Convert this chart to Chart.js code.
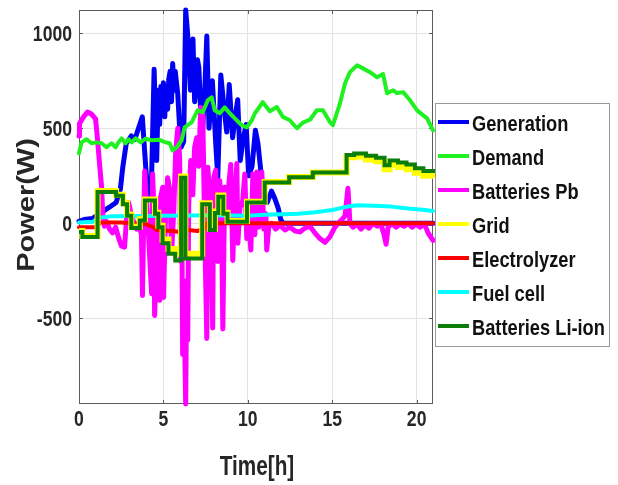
<!DOCTYPE html>
<html>
<head>
<meta charset="utf-8">
<script src="https://cdn.jsdelivr.net/npm/chart.js@4/dist/chart.umd.min.js"></script>
<style>
  html, body { margin: 0; padding: 0; background: #fff; overflow: hidden; }
  canvas { display: block; }
</style>
</head>
<body>
<canvas id="chart" width="618" height="485"></canvas>
<script>
// Axis ticks, axis titles and series names
const xTicks = [0, 5, 10, 15, 20];
const yTicks = [-500, 0, 500, 1000];
const xTitle = 'Time[h]';
const yTitle = 'Power(W)';
const seriesNames = ['Generation', 'Demand', 'Batteries Pb', 'Grid', 'Electrolyzer', 'Fuel cell', 'Batteries Li-ion'];

// Generation (W) over time (h)
const generationT = [0, 0.3, 0.8, 1.2, 1.8, 2.2, 2.45, 2.6, 2.8, 3.1,
  3.3, 3.6, 3.75, 3.95, 4.1, 4.3, 4.45, 4.6, 4.7, 4.78,
  4.85, 4.92, 5.0, 5.08, 5.15, 5.25, 5.32, 5.4, 5.48, 5.55,
  5.62, 5.7, 5.85, 5.95, 6.05, 6.2, 6.32, 6.45, 6.6, 6.68,
  6.75, 6.85, 6.95, 7.02, 7.1, 7.2, 7.3, 7.45, 7.57, 7.7,
  7.9, 8.1, 8.22, 8.4, 8.6, 8.75, 8.9, 9.1, 9.25, 9.4,
  9.55, 9.7, 9.9, 10.05, 10.25, 10.45, 10.6, 10.8, 11.0, 11.15,
  11.4, 11.6, 11.8, 11.95, 12.1, 20.97];
const generationW = [10, 20, 25, 50, 85, 110, 180, 300, 420, 460,
  440, 520, 560, 300, 140, 240, 810, 330, 700, 520,
  720, 600, 740, 560, 720, 600, 760, 800, 640, 840,
  700, 800, 680, 520, 400, 430, 1122, 980, 700, 900,
  970, 640, 730, 860, 820, 600, 460, 700, 985, 500,
  750, 420, 240, 780, 600, 480, 730, 450, 560, 650,
  330, 430, 520, 250, 300, 490, 420, 250, 140, 110,
  170, 130, 80, 20, 0, 0];

// Demand (W)
const demandT = [0, 0.15, 0.45, 0.74, 1.04, 1.34, 1.63, 1.93, 2.17, 2.34, 2.52, 2.76, 2.94, 3.12, 3.35, 3.65, 3.95, 4.3, 4.72, 5.13,
  5.37, 5.55, 5.79, 6.08, 6.26, 6.68, 7.03, 7.33, 7.63, 7.86, 8.04, 8.34, 8.63, 8.93, 9.23, 9.64, 9.94, 10.24, 10.42, 10.89,
  11.3, 11.72, 12.08, 12.49, 12.91, 13.26, 13.68, 14.09, 14.45, 14.87, 15.04, 15.46, 15.76, 16.05, 16.47, 16.82, 17.24, 17.66, 18.01, 18.25,
  18.61, 18.84, 19.2, 19.61, 20.03, 20.39, 20.62, 20.97];
const demandW = [368, 426, 442, 421, 426, 421, 400, 421, 400, 426, 447, 421, 442, 426, 447, 426, 445, 437, 440, 426,
  421, 384, 400, 437, 505, 532, 595, 584, 647, 663, 595, 579, 610, 579, 552, 516, 505, 542, 579, 637,
  590, 612, 560, 542, 500, 530, 545, 595, 595, 532, 516, 631, 737, 795, 831, 815, 795, 768, 785, 684,
  700, 685, 690, 647, 594, 568, 552, 489];

// Lead-acid batteries (W)
const pbT = [0, 0.03, 0.27, 0.5, 0.74, 0.98, 1.1, 1.22, 1.34, 1.4,
  1.5, 1.63, 1.81, 1.99, 2.17, 2.34, 2.52, 2.7, 2.82, 2.94,
  3.06, 3.23, 3.41, 3.59, 3.7, 3.76, 3.83, 3.89, 4.0, 4.12,
  4.3, 4.36, 4.42, 4.48, 4.6, 4.66, 4.78, 4.84, 4.96, 5.01,
  5.13, 5.25, 5.37, 5.49, 5.61, 5.73, 5.85, 5.96, 6.02, 6.08,
  6.14, 6.23, 6.32, 6.38, 6.44, 6.5, 6.62, 6.74, 6.85, 6.97,
  7.09, 7.21, 7.33, 7.45, 7.57, 7.63, 7.74, 7.86, 7.92, 7.98,
  8.1, 8.22, 8.34, 8.46, 8.52, 8.63, 8.75, 8.87, 8.99, 9.11,
  9.23, 9.35, 9.41, 9.53, 9.7, 9.82, 9.94, 10.06, 10.18, 10.3,
  10.42, 10.53, 10.65, 10.83, 10.95, 11.07, 11.12, 11.24, 11.42, 11.65,
  11.9, 12.2, 12.5, 12.8, 13.09, 13.38, 13.68, 13.97, 14.27, 14.57,
  14.87, 15.16, 15.34, 15.58, 15.76, 15.93, 16.05, 16.23, 16.47, 16.71,
  16.94, 17.18, 17.42, 17.66, 17.89, 18.07, 18.19, 18.31, 18.55, 18.78,
  19.02, 19.26, 19.5, 19.73, 19.97, 20.21, 20.45, 20.68, 20.97];
const pbW = [460, 525, 560, 585, 575, 550, 440, 310, 190, 60,
  -15, 10, -30, -50, -20, -75, -120, -125, 30, 110,
  60, 10, -30, -20, -60, -380, 0, 275, 100, -60,
  -370, 260, 120, -485, -200, 0, -405, 140, 190, -390,
  50, 240, 180, -150, 60, 380, 500, 350, -200, 200,
  -690, -450, -950, -300, -615, 100, 330, 150, 400, 450,
  300, 610, 580, -50, -605, 295, 150, -250, -550, 240,
  280, -200, 225, -100, -555, 190, 30, 200, 310, -195,
  120, 315, -105, 80, 120, 260, -80, 10, -140, 260,
  -60, 270, -20, 270, -30, 50, -140, -20, 0, -30,
  -10, -35, -20, -40, -45, -25, -15, -50, -80, -100,
  -70, -20, 0, 20, 40, 185, 0, -20, -5, -30,
  -10, -25, 0, -15, -5, -60, -110, -20, 0, -20,
  -5, -15, 0, -20, -5, -20, 0, -50, -90];

// Grid and Li-ion batteries: piecewise-constant set points (W), each value holds from its start time
const storageT = [0, 0.2, 1.1, 2.2, 2.6, 2.85, 3.1, 3.6, 3.9, 4.5,
  4.7, 4.95, 5.3, 5.7, 6.05, 6.3, 7.3, 7.75, 8.05, 8.25,
  8.55, 8.8, 9.95, 11.0, 12.45, 13.85, 15.85, 16.3, 17.0, 17.6,
  18.1, 18.4, 18.9, 19.4, 19.9, 20.4, 20.97];
const gridW = [-40, -66, 170, 150, 106, 46, -18, 22, 126, 56,
  -12, -85, -135, -160, 246, -160, 106, -28, 62, 146,
  56, 12, 114, 218, 244, 268, 348, 352, 336, 326,
  284, 308, 296, 285, 266, 250, 240];
const liIonW = [-45, -72, 165, 145, 100, 40, -25, 15, 120, 50,
  -20, -105, -160, -195, 240, -185, 100, -35, 55, 140,
  50, 8, 110, 215, 242, 268, 360, 368, 355, 345,
  305, 330, 320, 310, 290, 275, 265];

// Electrolyzer (W)
const electrolyzerT = [0, 1.1, 1.25, 2.5, 3.0, 4.0, 4.4, 4.6, 5.5, 6.0, 6.5, 7.0, 7.4, 7.6, 20.97];
const electrolyzerW = [-20, -20, 5, 5, 0, -5, -20, -35, -40, -45, -35, -40, -30, 0, 0];

// Fuel cell (W)
const fuelCellT = [0, 0.8, 1.2, 2.0, 5.0, 8.0, 10.0, 11.0, 12.0, 13.0, 14.0, 15.0, 15.5, 16.0, 16.5, 17.5, 18.5, 19.5, 20.5, 20.97];
const fuelCellW = [5, 8, 30, 38, 40, 42, 40, 45, 48, 50, 58, 70, 80, 90, 95, 92, 88, 78, 70, 65];

const toPoints = (t, w) => t.map((x, i) => ({ x, y: w[i] }));

const FONT = '"Liberation Sans", Arial, sans-serif';
const TEXT = '#262626';

// Line styles, in legend order; "layer" 0 is drawn on top
const styles = [
  { color: '#0000f2', width: 5, layer: 6 },
  { color: '#1ff01f', width: 4, layer: 4 },
  { color: '#ff00ff', width: 5, layer: 5 },
  { color: '#ffff00', width: 6, layer: 1, stepped: true },
  { color: '#ff0000', width: 4, layer: 3 },
  { color: '#00ffff', width: 4, layer: 2 },
  { color: '#0a7d0a', width: 4, layer: 0, stepped: true }
];
const seriesData = [
  toPoints(generationT, generationW),
  toPoints(demandT, demandW),
  toPoints(pbT, pbW),
  toPoints(storageT, gridW),
  toPoints(electrolyzerT, electrolyzerW),
  toPoints(fuelCellT, fuelCellW),
  toPoints(storageT, liIonW)
];

const allW = [].concat(generationW, demandW, pbW, gridW, liIonW, electrolyzerW, fuelCellW);
const yMin = Math.min(...allW);
const yMax = Math.max(...allW);
const tEnd = Math.max(...generationT, ...demandT, ...pbT, ...storageT);

const datasets = seriesNames.map((name, i) => ({
  label: name,
  data: seriesData[i],
  borderColor: styles[i].color,
  backgroundColor: styles[i].color,
  borderWidth: styles[i].width,
  stepped: styles[i].stepped ? 'before' : false,
  borderJoinStyle: styles[i].stepped ? 'miter' : 'round',
  borderCapStyle: styles[i].stepped ? 'butt' : 'round',
  order: styles[i].layer,
  pointRadius: 0,
  tension: 0,
  fill: false,
  clip: false
}));

// Draws a string with a horizontal squeeze (bold, condensed look)
function squeezedText(ctx, str, x, y, size, sx, align, rotate) {
  ctx.save();
  ctx.translate(x, y);
  ctx.scale(sx, 1);
  if (rotate) ctx.rotate(-Math.PI / 2);
  ctx.font = 'bold ' + size + 'px ' + FONT;
  ctx.textAlign = align;
  ctx.textBaseline = 'middle';
  ctx.fillText(str, 0, 0);
  ctx.restore();
}

// Boxed axes with inward tick marks
const axesBox = {
  id: 'axesBox',
  beforeDatasetsDraw(chart) {
    const { ctx, chartArea: a, scales } = chart;
    ctx.save();
    ctx.strokeStyle = '#5c5c5c';
    ctx.lineWidth = 1;
    ctx.strokeRect(a.left + 0.5, a.top + 0.5, a.right - a.left - 1, a.bottom - a.top - 1);
    ctx.beginPath();
    xTicks.forEach(v => {
      const px = Math.round(scales.x.getPixelForValue(v)) + 0.5;
      ctx.moveTo(px, a.bottom); ctx.lineTo(px, a.bottom - 4);
      ctx.moveTo(px, a.top); ctx.lineTo(px, a.top + 4);
    });
    yTicks.forEach(v => {
      const py = Math.round(scales.y.getPixelForValue(v)) + 0.5;
      ctx.moveTo(a.left, py); ctx.lineTo(a.left + 4, py);
      ctx.moveTo(a.right, py); ctx.lineTo(a.right - 4, py);
    });
    ctx.stroke();
    ctx.restore();
  }
};

// Tick labels and axis titles
const axisText = {
  id: 'axisText',
  afterDraw(chart) {
    const { ctx, chartArea: a, scales } = chart;
    ctx.save();
    ctx.fillStyle = TEXT;
    yTicks.forEach(v => {
      squeezedText(ctx, String(v), a.left - 7, scales.y.getPixelForValue(v) + 2, 22, 0.8, 'right');
    });
    xTicks.forEach(v => {
      squeezedText(ctx, String(v), scales.x.getPixelForValue(v), a.bottom + 16, 22, 0.8, 'center');
    });
    squeezedText(ctx, xTitle, (a.left + a.right) / 2 + 1, 467, 28, 0.74, 'center');
    squeezedText(ctx, yTitle, 28, (a.top + a.bottom) / 2 - 2, 29, 0.8, 'center', true);
    ctx.restore();
  }
};

// Legend box beside the plot
const sideLegend = {
  id: 'sideLegend',
  afterDraw(chart) {
    const { ctx } = chart;
    const box = { x: 435, y: 103, w: 175, h: 244 };
    ctx.save();
    ctx.fillStyle = '#fff';
    ctx.fillRect(box.x, box.y, box.w, box.h);
    ctx.strokeStyle = '#9a9a9a';
    ctx.lineWidth = 1;
    ctx.strokeRect(box.x + 0.5, box.y + 0.5, box.w - 1, box.h - 1);
    chart.data.datasets.forEach((ds, i) => {
      const y = 122 + i * 34;
      ctx.strokeStyle = ds.borderColor;
      ctx.lineWidth = 4;
      ctx.lineCap = 'butt';
      ctx.beginPath();
      ctx.moveTo(438, y);
      ctx.lineTo(469, y);
      ctx.stroke();
      ctx.fillStyle = '#111';
      squeezedText(ctx, ds.label, 472, y + 3, 22, 0.83, 'left');
    });
    ctx.restore();
  }
};

new Chart(document.getElementById('chart'), {
  type: 'line',
  data: { datasets },
  options: {
    responsive: false,
    animation: false,
    devicePixelRatio: 1,
    layout: { padding: { left: 0, right: 185, top: 10, bottom: 0 } },
    plugins: { legend: { display: false }, tooltip: { enabled: false } },
    scales: {
      x: {
        type: 'linear',
        min: 0,
        max: tEnd,
        grid: { color: '#e2e2e2', drawTicks: false },
        border: { display: false },
        ticks: { display: false },
        afterBuildTicks: s => { s.ticks = xTicks.map(v => ({ value: v })); },
        afterFit: s => { s.height = 81; }
      },
      y: {
        type: 'linear',
        min: yMin,
        max: yMax,
        grid: { color: '#e2e2e2', drawTicks: false },
        border: { display: false },
        ticks: { display: false },
        afterBuildTicks: s => { s.ticks = yTicks.map(v => ({ value: v })); },
        afterFit: s => { s.width = 79; }
      }
    }
  },
  plugins: [axesBox, axisText, sideLegend]
});
</script>
</body>
</html>
